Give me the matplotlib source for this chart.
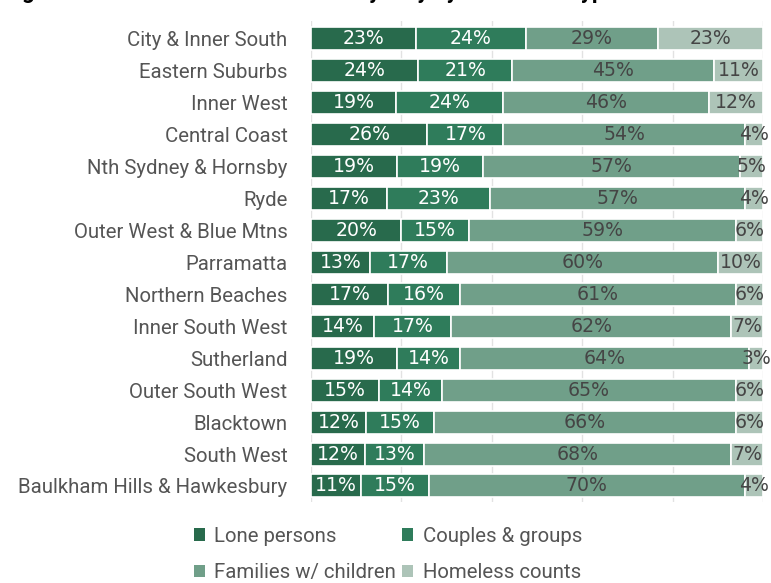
import matplotlib.pyplot as plt
from matplotlib.patches import Patch
import numpy as np

plt.rcParams['font.family'] = ['Roboto', 'DejaVu Sans']

regions = ['City & Inner South', 'Eastern Suburbs', 'Inner West', 'Central Coast',
           'Nth Sydney & Hornsby', 'Ryde', 'Outer West & Blue Mtns', 'Parramatta',
           'Northern Beaches', 'Inner South West', 'Sutherland', 'Outer South West',
           'Blacktown', 'South West', 'Baulkham Hills & Hawkesbury']
lone = [23, 24, 19, 26, 19, 17, 20, 13, 17, 14, 19, 15, 12, 12, 11]
couples = [24, 21, 24, 17, 19, 23, 15, 17, 16, 17, 14, 14, 15, 13, 15]
families = [29, 45, 46, 54, 57, 57, 59, 60, 61, 62, 64, 65, 66, 68, 70]
homeless = [23, 11, 12, 4, 5, 4, 6, 10, 6, 7, 3, 6, 6, 7, 4]

series = ['Lone persons', 'Couples & groups', 'Families w/ children', 'Homeless counts']
colors = ['#286a4c', '#2f7c5b', '#709f89', '#adc4b8']
text_colors = ['white', 'white', '#454545', '#454545']

data = np.array([lone, couples, families, homeless], dtype=float)
shares = data / data.sum(axis=0) * 100  # rounded labels, bars fill 100%

fig = plt.figure(figsize=(7.71, 5.83), dpi=100)
ax = fig.add_axes([0.4034, 0.139, 0.5862, 0.825])

y = np.arange(len(regions))
left = np.zeros(len(regions))
for i in range(4):
    ax.barh(y, shares[i], left=left, height=0.72, color=colors[i],
            edgecolor='white', linewidth=1.2, zorder=2)
    for j in range(len(regions)):
        ax.text(left[j] + shares[i][j] / 2, y[j], '%d%%' % data[i][j],
                ha='center', va='center', fontsize=13.6, color=text_colors[i],
                family='DejaVu Sans', zorder=3)
    left += shares[i]

ax.set_xlim(0, 100)
ax.set_ylim(14.5, -0.55)
ax.set_xticks([0, 20, 40, 60, 80, 100])
ax.xaxis.grid(True, color='#e2e2e2', linewidth=1, zorder=0)
ax.tick_params(axis='x', length=0, labelbottom=False)
ax.set_yticks(y)
ax.set_yticklabels(regions, fontsize=14.7, color='#555555')
ax.tick_params(axis='y', length=0, pad=17)
for s in ax.spines.values():
    s.set_visible(False)

# title sits mostly above the crop, as in the source image
fig.text(0.005, 1.0 + 2 / 583, 'Figure 4: Homelessness in Greater Sydney by household type',
         fontsize=16, fontweight='bold', va='baseline', ha='left')

order = [0, 2, 1, 3]
handles = [Patch(facecolor=colors[k], edgecolor='none') for k in order]
labels = [series[k] for k in order]
fig.legend(handles, labels, ncol=2, loc='lower center', bbox_to_anchor=(0.503, -0.03),
           frameon=False, fontsize=14.7, labelcolor='#555555',
           handlelength=0.55, handleheight=0.55, handletextpad=0.45,
           columnspacing=0.3, labelspacing=0.85)

fig.savefig('out.png', dpi=100)
